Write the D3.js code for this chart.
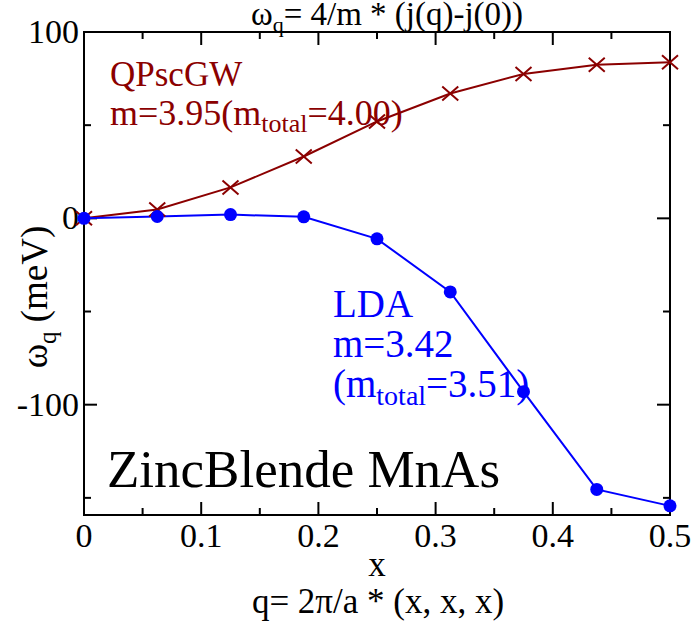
<!DOCTYPE html>
<html>
<head>
<meta charset="utf-8">
<script src="https://cdn.jsdelivr.net/npm/d3@7"></script>
<style>
  body { margin: 0; background: #fff; }
  text { font-family: "Liberation Serif", "Times New Roman", serif; }
</style>
</head>
<body>
<svg id="chart" width="696" height="627"></svg>
<script>
// q points along (x,x,x)
var xValues = [0, 0.0625, 0.125, 0.1875, 0.25, 0.3125, 0.375, 0.4375, 0.5];
// spin wave energies in meV
var gwValues = [0, 4.8, 16.6, 33.2, 52, 67, 77.5, 82.4, 83.8];
var ldaValues = [0, 1, 2, 0.8, -11, -39.5, -93, -145.5, -154.3];
var xTicks = [0, 0.1, 0.2, 0.3, 0.4, 0.5];
var xMinor = [0.05, 0.15, 0.25, 0.35, 0.45];
var yTicks = [-100, 0, 100];
var yMinor = [-150, -50, 50];

var svg = d3.select("#chart");
// plot box (note: "top" is reserved on window, so use plotTop)
var plotLeft = 84, plotRight = 670, plotTop = 32, plotBottom = 515;

var x = d3.scaleLinear().domain([0, 0.5]).range([plotLeft, plotRight]);
var y = d3.scaleLinear().domain([-159.2, 100]).range([plotBottom, plotTop]);

var gwColor = "#8b0000", ldaColor = "#0000ff";

// frame
svg.append("rect").attr("x", plotLeft).attr("y", plotTop)
  .attr("width", plotRight - plotLeft).attr("height", plotBottom - plotTop)
  .attr("fill", "none").attr("stroke", "#000").attr("stroke-width", 2);

// ticks on all sides, pointing inward
function tick(x1, y1, x2, y2){
  svg.append("line").attr("x1", x1).attr("y1", y1).attr("x2", x2).attr("y2", y2)
    .attr("stroke", "#000").attr("stroke-width", 2);
}
function drawTicks(){
  var major = 13, minor = 7;
  xTicks.forEach(function(v){
    tick(x(v), plotBottom, x(v), plotBottom - major);
    tick(x(v), plotTop, x(v), plotTop + major);
  });
  xMinor.forEach(function(v){
    tick(x(v), plotBottom, x(v), plotBottom - minor);
    tick(x(v), plotTop, x(v), plotTop + minor);
  });
  yTicks.forEach(function(v){
    tick(plotLeft, y(v), plotLeft + major, y(v));
    tick(plotRight, y(v), plotRight - major, y(v));
  });
  yMinor.forEach(function(v){
    tick(plotLeft, y(v), plotLeft + minor, y(v));
    tick(plotRight, y(v), plotRight - minor, y(v));
  });
}
drawTicks();

// tick labels
svg.selectAll(".xlab").data(xTicks).enter().append("text")
  .attr("x", function(d){ return x(d); }).attr("y", 547)
  .attr("text-anchor", "middle").attr("font-size", 34)
  .text(function(d){ return d3.format("")(d); });
svg.selectAll(".ylab").data(yTicks).enter().append("text")
  .attr("x", 79).attr("y", function(d){ return y(d) + 11; })
  .attr("text-anchor", "end").attr("font-size", 34)
  .text(function(d){ return d; });

// axis titles
svg.append("text").attr("x", 377).attr("y", 576).attr("text-anchor", "middle")
  .attr("font-size", 35).text("x");
svg.append("text").attr("x", 378).attr("y", 613).attr("text-anchor", "middle")
  .attr("font-size", 35).text("q= 2\u03c0/a * (x, x, x)");

var yl = svg.append("text").attr("transform", "translate(47,297) rotate(-90)")
  .attr("text-anchor", "middle").attr("font-size", 37);
yl.append("tspan").text("\u03c9");
yl.append("tspan").attr("font-size", 25).attr("dy", 9).text("q");
yl.append("tspan").attr("dy", -9).text(" (meV)");

var tt = svg.append("text").attr("x", 387).attr("y", 25).attr("text-anchor", "middle")
  .attr("font-size", 33);
tt.append("tspan").text("\u03c9");
tt.append("tspan").attr("font-size", 22).attr("dy", 7).text("q");
tt.append("tspan").attr("dy", -7).text("= 4/m * (j(q)-j(0))");

// series lines
var line = d3.line().x(function(d){ return x(d[0]); }).y(function(d){ return y(d[1]); });
var gwData = d3.zip(xValues, gwValues);
var ldaData = d3.zip(xValues, ldaValues);

svg.append("path").datum(gwData).attr("d", line).attr("fill", "none")
  .attr("stroke", gwColor).attr("stroke-width", 2);
svg.append("path").datum(ldaData).attr("d", line).attr("fill", "none")
  .attr("stroke", ldaColor).attr("stroke-width", 2);

// crosses for QPscGW
svg.selectAll(".gw").data(gwData).enter().append("path")
  .attr("transform", function(d){ return "translate(" + x(d[0]) + "," + y(d[1]) + ")"; })
  .attr("d", "M-8,-7L8,7M-8,7L8,-7")
  .attr("stroke", gwColor).attr("stroke-width", 2).attr("fill", "none");

// dots for LDA
svg.selectAll(".lda").data(ldaData).enter().append("circle")
  .attr("cx", function(d){ return x(d[0]); }).attr("cy", function(d){ return y(d[1]); })
  .attr("r", 6.5).attr("fill", ldaColor);

// annotations
svg.append("text").attr("x", 110).attr("y", 86).attr("font-size", 35)
  .attr("fill", gwColor).text("QPscGW");
var g2 = svg.append("text").attr("x", 110).attr("y", 125).attr("font-size", 36).attr("fill", gwColor);
g2.append("tspan").text("m=3.95(m");
g2.append("tspan").attr("font-size", 26).attr("dy", 7).text("total");
g2.append("tspan").attr("dy", -7).text("=4.00)");

svg.append("text").attr("x", 333).attr("y", 317).attr("font-size", 39)
  .attr("fill", ldaColor).text("LDA");
svg.append("text").attr("x", 333).attr("y", 357).attr("font-size", 39)
  .attr("fill", ldaColor).text("m=3.42");
var l3 = svg.append("text").attr("x", 333).attr("y", 397).attr("font-size", 39).attr("fill", ldaColor);
l3.append("tspan").text("(m");
l3.append("tspan").attr("font-size", 28).attr("dy", 8).text("total");
l3.append("tspan").attr("dy", -8).text("=3.51)");

svg.append("text").attr("x", 107).attr("y", 487).attr("font-size", 53)
  .text("ZincBlende MnAs");
</script>
</body>
</html>
